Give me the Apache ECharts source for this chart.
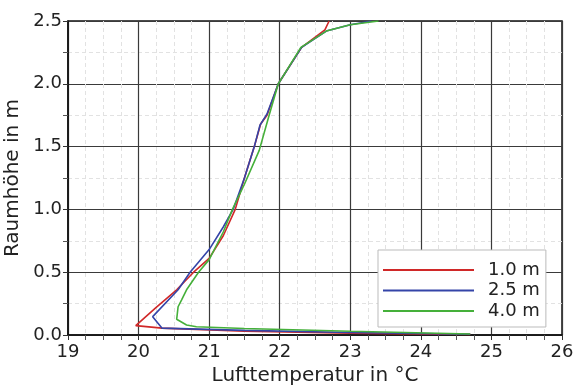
<!DOCTYPE html>
<html><head><meta charset="utf-8">
<script src="https://cdn.jsdelivr.net/npm/echarts@6/dist/echarts.min.js"></script>
<style>html,body{margin:0;padding:0;background:#fff}#c{width:575px;height:388px}</style>
</head><body><div id="c"></div>
<script>
const seriesNames = ['1.0 m', '2.5 m', '4.0 m'];
const seriesColors = ['#d02828', '#3444a8', '#45b03a'];
// [temperature °C, height m]
const red10 = [[24.7,0.005],[23,0.015],[21.5,0.03],[20.33,0.055],[19.96,0.075],[20.25,0.22],[20.54,0.36],[20.78,0.5],[21.0,0.61],[21.2,0.79],[21.37,1.0],[21.5,1.25],[21.64,1.5],[21.73,1.68],[21.82,1.75],[21.98,2.0],[22.31,2.29],[22.64,2.43],[22.7,2.5]];
const blue25 = [[24.7,0.006],[23,0.02],[21.5,0.037],[20.33,0.055],[20.2,0.146],[20.56,0.36],[20.73,0.5],[21.0,0.68],[21.2,0.86],[21.34,1.0],[21.5,1.25],[21.64,1.5],[21.72,1.67],[21.82,1.76],[21.98,2.0],[22.31,2.29],[22.66,2.42],[23.0,2.47],[23.3,2.5]];
const green40 = [[24.7,0.008],[23,0.03],[21.5,0.052],[20.82,0.066],[20.68,0.08],[20.54,0.125],[20.56,0.225],[20.61,0.28],[20.68,0.36],[20.85,0.5],[21.0,0.6],[21.2,0.82],[21.33,1.0],[21.5,1.2],[21.71,1.47],[21.85,1.75],[21.98,2.0],[22.3,2.29],[22.66,2.42],[23.0,2.47],[23.4,2.5]];
const xTicks = [19,20,21,22,23,24,25,26];
const yTicks = [0,0.5,1,1.5,2,2.5];

const chart = echarts.init(document.getElementById('c'));
const font = '"DejaVu Sans", sans-serif';
const allData = [red10, blue25, green40];
chart.setOption({
  animation: false,
  grid: {left: 68, right: 13, top: 21, bottom: 53, containLabel: false, outerBoundsMode: 'none', show: true, borderColor: '#111', borderWidth: 1.5, backgroundColor: '#fff'},
  legend: {
    left: 378, top: 250, orient: 'vertical', icon: 'rect',
    backgroundColor: '#fff', borderColor: '#bbb', borderWidth: 1,
    padding: [10, 6, 6, 5], itemWidth: 91, itemHeight: 2, itemGap: 0.5,
    textStyle: {fontFamily: font, fontSize: 18, color: '#222', lineHeight: 20, padding: [0,0,0,9]},
    data: seriesNames
  },
  xAxis: {
    type: 'value', min: xTicks[0], max: xTicks[xTicks.length-1], interval: 1,
    name: 'Lufttemperatur in °C', nameLocation: 'middle', nameGap: 30,
    nameTextStyle: {fontFamily: font, fontSize: 20, color: '#222'},
    axisLine: {show: true, onZero: false, lineStyle: {color: '#111', width: 1.5}},
    axisTick: {show: true, inside: false, length: 5, lineStyle: {color: '#333'}},
    minorTick: {show: true, splitNumber: 4, length: 5, lineStyle: {color: '#555'}},
    axisLabel: {fontFamily: font, fontSize: 18, color: '#222', margin: 8},
    splitLine: {show: true, lineStyle: {color: '#3a3a3a', width: 1.2}},
    minorSplitLine: {show: true, lineStyle: {color: '#e2e2e2', type: [4,3], width: 1}}
  },
  yAxis: {
    type: 'value', min: yTicks[0], max: yTicks[yTicks.length-1], interval: 0.5,
    name: 'Raumhöhe in m', nameLocation: 'middle', nameGap: 44,
    nameTextStyle: {fontFamily: font, fontSize: 20, color: '#222'},
    axisLine: {show: true, onZero: false, lineStyle: {color: '#111', width: 1.5}},
    axisTick: {show: true, inside: false, length: 5, lineStyle: {color: '#333'}},
    minorTick: {show: true, splitNumber: 2, length: 5, lineStyle: {color: '#555'}},
    axisLabel: {fontFamily: font, fontSize: 18, color: '#222', margin: 6, formatter: v => v.toFixed(1)},
    splitLine: {show: true, lineStyle: {color: '#3a3a3a', width: 1.2}},
    minorSplitLine: {show: true, lineStyle: {color: '#e2e2e2', type: [4,3], width: 1}}
  },
  series: seriesNames.map((n, i) => ({
    name: n, type: 'line', data: allData[i], symbol: 'none', showSymbol: false,
    color: seriesColors[i], lineStyle: {width: 1.6, color: seriesColors[i]}, clip: true
  }))
});
</script></body></html>
